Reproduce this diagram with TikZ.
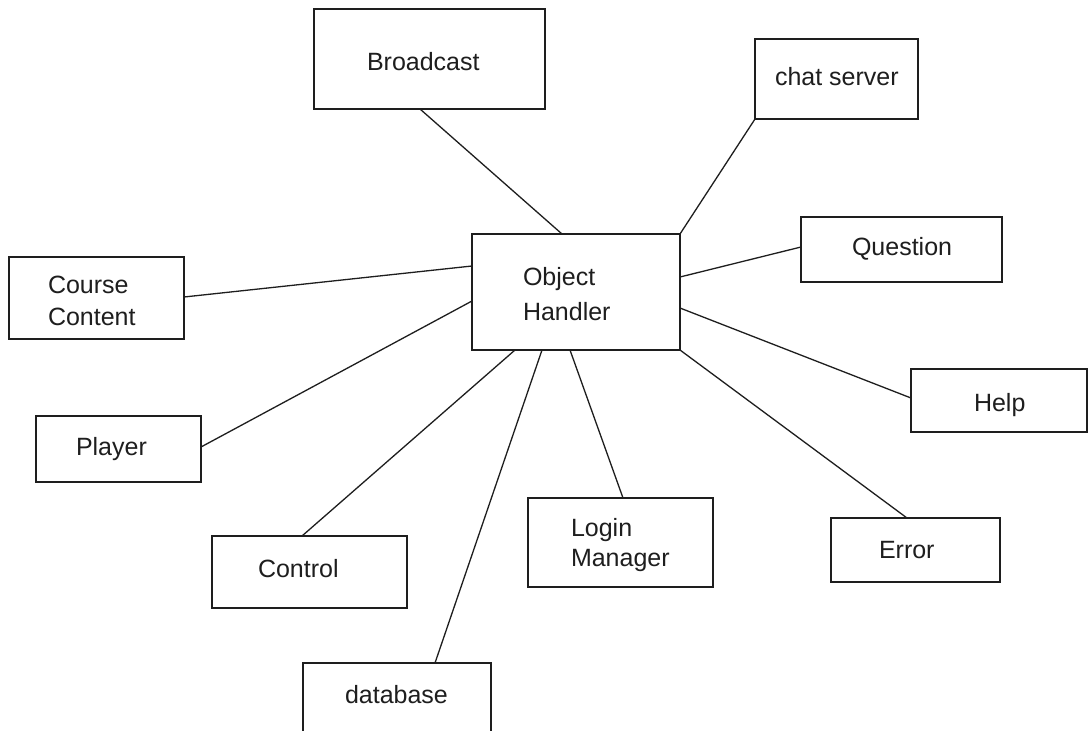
\documentclass[tikz,border=0pt]{standalone}
\usepackage{fontspec}
\setmainfont{Liberation Sans}
\definecolor{ink}{HTML}{1E1E1E}
\begin{document}
\begin{tikzpicture}[x=1pt,y=-1pt,
  box/.style={draw=ink, line width=1.9pt, rectangle, inner sep=0pt, outer sep=0pt, anchor=north west},
  txt/.style={text=ink, inner sep=0pt, outer sep=0pt, anchor=base west, font=\fontsize{25}{30}\selectfont},
  link/.style={draw=ink, line width=1.3pt}]
\useasboundingbox[fill=white] (0,0) rectangle (1088,731);
% boxes
\node[box, minimum width=231pt, minimum height=100pt] (bc) at (314,9) {};
\node[box, minimum width=163pt, minimum height=80pt] (chat) at (755,39) {};
\node[box, minimum width=208pt, minimum height=116pt] (oh) at (472,234) {};
\node[box, minimum width=201pt, minimum height=65pt] (q) at (801,217) {};
\node[box, minimum width=175pt, minimum height=82pt] (cc) at (9,257) {};
\node[box, minimum width=165pt, minimum height=66pt] (pl) at (36,416) {};
\node[box, minimum width=176pt, minimum height=63pt] (help) at (911,369) {};
\node[box, minimum width=195pt, minimum height=72pt] (ctl) at (212,536) {};
\node[box, minimum width=185pt, minimum height=89pt] (lm) at (528,498) {};
\node[box, minimum width=169pt, minimum height=64pt] (err) at (831,518) {};
\node[box, minimum width=188pt, minimum height=80pt] (db) at (303,663) {};
% texts
\node[txt] (bct) at (367,70) {Broadcast};
\node[txt] (chatt) at (775,85) {chat server};
\node[txt] (qt) at (852,255) {Question};
\node[txt] (oht1) at (523,285) {Object};
\node[txt] (oht2) at (523,320) {Handler};
\node[txt] (cct1) at (48,293) {Course};
\node[txt] (cct2) at (48,325) {Content};
\node[txt] (plt) at (76,455) {Player};
\node[txt] (helpt) at (974,411) {Help};
\node[txt] (ctlt) at (258,577) {Control};
\node[txt] (lmt1) at (571,536) {Login};
\node[txt] (lmt2) at (571,566) {Manager};
\node[txt] (errt) at (879,558) {Error};
\node[txt] (dbt) at (345,703) {database};
% connectors
\draw[link] ([xshift=106pt]bc.south west) -- ([xshift=90pt]oh.north west);
\draw[link] (chat.south west) -- (oh.north east);
\draw[link] ([yshift=-43pt]oh.north east) -- ([yshift=-30pt]q.north west);
\draw[link] ([yshift=-74pt]oh.north east) -- ([yshift=-29pt]help.north west);
\draw[link] (oh.south east) -- ([xshift=76pt]err.north west);
\draw[link] ([xshift=98pt]oh.south west) -- ([xshift=95pt]lm.north west);
\draw[link] ([xshift=70pt]oh.south west) -- ([xshift=132pt]db.north west);
\draw[link] ([xshift=43pt]oh.south west) -- ([xshift=90pt]ctl.north west);
\draw[link] ([yshift=-67pt]oh.north west) -- ([yshift=-31pt]pl.north east);
\draw[link] ([yshift=-32pt]oh.north west) -- ([yshift=-40pt]cc.north east);
\end{tikzpicture}
\end{document}
